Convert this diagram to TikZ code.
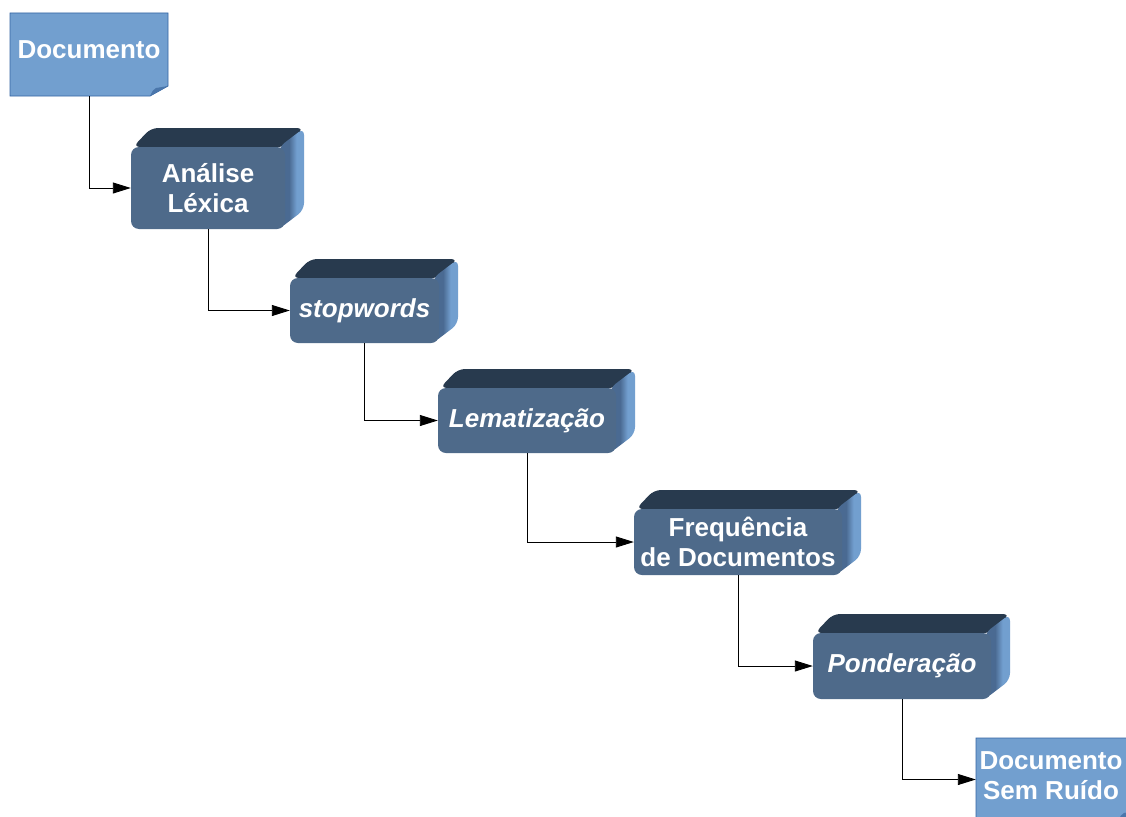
\documentclass[tikz,border=0pt]{standalone}
\usepackage{fontspec}
\setmainfont{Liberation Sans}
\usetikzlibrary{arrows.meta,calc}

\definecolor{docblue}{HTML}{729FCF}
\definecolor{docedge}{HTML}{3465A4}
\definecolor{docfold}{HTML}{4A76AB}
\definecolor{frontface}{HTML}{4E6A8A}
\definecolor{topface}{HTML}{283A4E}
\definecolor{sidelight}{HTML}{729FCF}
\definecolor{sidedark}{HTML}{4A6A92}

% side faces: dark where they meet the front, light towards the back
\pgfdeclarehorizontalshading{sideshade}{100bp}{%
  color(0bp)=(sidedark); color(45bp)=(sidedark); color(60bp)=(sidelight); color(100bp)=(sidelight)}

\tikzset{
  labeltext/.style={text=white, font=\fontsize{26}{30}\selectfont\bfseries, align=center},
  frontbox/.style={labeltext, fill=frontface, rounded corners=8, inner sep=0pt},
  pageshape/.style={fill=docblue, draw=docedge, line width=0.8},
  conn/.style={draw=black, line width=0.9, -{Triangle[length=18,width=11]}},
}

% 3-D process block: name, left, top, right, bottom (front face), text
\newcommand\blockbox[6]{%
  \fill[topface, rounded corners=7]
    ({#2+2},{#3}) -- ({#2+20},{#3-19}) -- ({#4+19},{#3-19}) -- ({#4},{#3}) -- cycle;
  \shade[shading=sideshade, rounded corners=7]
    ({#4-6},{#3}) -- ({#4+19},{#3-19}) -- ({#4+19},{#5-19}) -- ({#4-6},{#5}) -- cycle;
  \node[frontbox, minimum width={#4-#2}, minimum height={#5-#3}]
    (#1) at ({(#2+#4)/2},{(#3+#5)/2}) {#6};
}

% document page with folded corner: name, left, top, right, bottom, text, xshift, yshift
\newcommand\docpage[8]{%
  \path[pageshape] (#2,#3) -- (#4,#3) -- (#4,{#5-10}) -- ({#4-18},#5) -- (#2,#5) -- cycle;
  \fill[docfold] ({#4-18},#5) .. controls ({#4-15},{#5-6}) .. ({#4-12},{#5-8}) -- (#4,{#5-10}) -- cycle;
  \node[inner sep=0pt, minimum width={#4-#2}, minimum height={#5-#3},
        label={[labeltext, xshift=#7, yshift=#8]center:#6}]
    (#1) at ({(#2+#4)/2},{(#3+#5)/2}) {};
}

\begin{document}
\begin{tikzpicture}[x=1pt,y=-1pt]
  \useasboundingbox (0,0) rectangle (1126,816);
  \clip (0,0) rectangle (1126,816);
  \fill[white] (0,0) rectangle (1126,816);

  \docpage{doc}{10}{13}{168}{96}{Documento}{0}{5}
  \blockbox{lex}{131}{147}{285}{229}{Análise\\Léxica}
  \blockbox{stop}{290}{278}{439}{343}{\itshape stopwords}
  \blockbox{lema}{438}{388}{616}{453}{\itshape Lematização}
  \blockbox{freq}{634}{509}{842}{575}{Frequência\\de Documentos}
  \blockbox{pond}{813}{633}{991}{699}{\itshape Ponderação}
  \docpage{clean}{976}{738}{1136}{821}{Documento\\Sem Ruído}{-5}{4}

  \draw[conn] (doc.south) |- (lex.west);
  \draw[conn] (lex.south) |- (stop.west);
  \draw[conn] (stop.south) |- (lema.west);
  \draw[conn] (lema.south) |- (freq.west);
  \draw[conn] (freq.south) |- (pond.west);
  \draw[conn] (pond.south) |- (clean.west);
\end{tikzpicture}
\end{document}
